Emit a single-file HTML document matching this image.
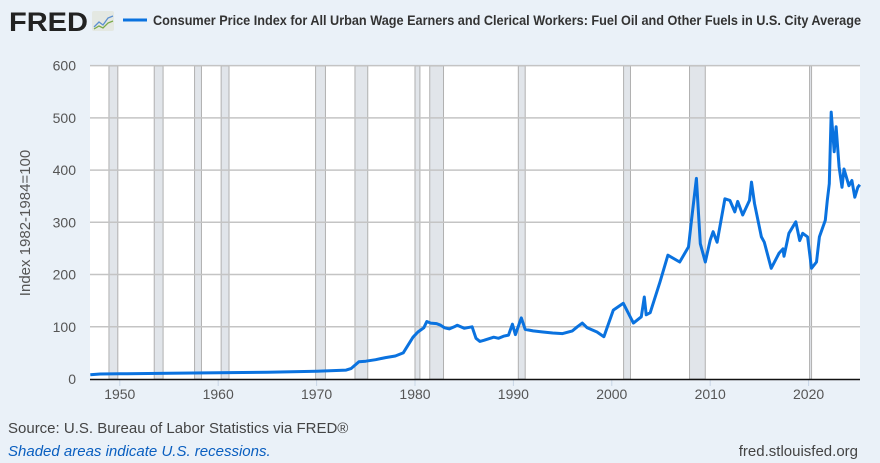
<!DOCTYPE html>
<html><head><meta charset="utf-8"><style>
html,body{margin:0;padding:0;background:#eaf1f8;}
svg{display:block;font-family:"Liberation Sans",sans-serif;}
</style></head><body>
<svg id="chart" width="880" height="463">
<rect width="880" height="463" fill="#eaf1f8"/>
<g>
<text x="9" y="31" font-size="27" font-weight="bold" fill="#222" textLength="79" lengthAdjust="spacingAndGlyphs">FRED</text>
<rect x="92" y="11" width="22" height="20" fill="#e4e8e2" rx="2"/>
<polyline points="94,27 99,22 103,25 108,18 113,16" fill="none" stroke="#5b8fd0" stroke-width="1.3"/>
<polyline points="94,29 99,26 103,28 108,23 113,21" fill="none" stroke="#7aaa4a" stroke-width="1.3"/>
</g>
<line x1="123" y1="20" x2="147" y2="20" stroke="#0a72df" stroke-width="3"/>
<text x="153" y="25" font-size="14" font-weight="bold" fill="#333" textLength="708" lengthAdjust="spacingAndGlyphs">Consumer Price Index for All Urban Wage Earners and Clerical Workers: Fuel Oil and Other Fuels in U.S. City Average</text>
<rect x="90" y="66" width="770" height="313" fill="#fff"/>
<g id="rec"></g><g id="grid"></g><g id="yt"></g><g id="xt"></g>
<text transform="translate(30,223) rotate(-90)" text-anchor="middle" font-size="15" fill="#555">Index 1982-1984=100</text>
<path id="line" fill="none" stroke="#0a72df" stroke-width="3" stroke-linejoin="round"/>
<line x1="90" y1="379.5" x2="860" y2="379.5" stroke="#111" stroke-width="1.5"/>
<text x="8" y="433" font-size="15" fill="#444">Source: U.S. Bureau of Labor Statistics via FRED®</text>
<text x="8" y="456" font-size="15" fill="#0a5fc0" font-style="italic">Shaded areas indicate U.S. recessions.</text>
<text x="858" y="456" font-size="15" fill="#444" text-anchor="end">fred.stlouisfed.org</text>
</svg>
<script>
const years=[1947,1948,1950,1955,1960,1965,1970,1973.0,1973.5,1974.0,1974.3,1975,1976,1977,1978,1978.8,1979.3,1979.8,1980.3,1980.9,1981.2,1981.6,1982.2,1982.6,1983,1983.5,1984,1984.3,1985,1985.8,1986.2,1986.6,1987,1988,1988.5,1989,1989.5,1989.9,1990.2,1990.8,1991.2,1992,1993,1994,1995,1996,1996.5,1997,1997.5,1998.5,1999.2,2000.15,2001.17,2002.2,2003.0,2003.3,2003.5,2003.9,2004.9,2005.7,2006.9,2007.8,2008.1,2008.6,2009.0,2009.5,2010.0,2010.3,2010.7,2011.5,2012.0,2012.5,2012.8,2013.3,2014.0,2014.2,2014.5,2015.2,2015.5,2016.2,2017.0,2017.4,2017.5,2018.0,2018.7,2019.1,2019.4,2019.9,2020.3,2020.8,2021.1,2021.7,2021.9,2022.1,2022.3,2022.6,2022.8,2023.1,2023.4,2023.6,2024.1,2024.4,2024.7,2025.0,2025.2];
const values=[8,9.5,10,11,12,13,15,17,20,28,33,34,37,41,44,50,65,80,90,98,110,107,106,103,98,96,100,103,97,100,78,72,74,80,78,82,84,105,85,117,95,92,90,88,87,92,100,107,98,90,81,132,145,107,119,157,123,127,186,237,224,253,304,384,259,224,266,282,262,345,342,320,340,314,342,377,336,272,262,212,241,249,235,279,301,265,279,272,212,224,272,304,342,374,511,435,483,406,367,402,370,380,348,367,372];
const recStart=[1948.9,1953.5,1957.6,1960.3,1969.9,1973.9,1980.0,1981.5,1990.5,2001.2,2007.9,2020.1];
const recEnd=[1949.8,1954.4,1958.3,1961.1,1970.9,1975.2,1980.5,1982.9,1991.2,2001.9,2009.5,2020.3];
const yTicks=[0,100,200,300,400,500,600];
const xTicks=[1950,1960,1970,1980,1990,2000,2010,2020];
const NS="http://www.w3.org/2000/svg";
const X=y=>623.3+(y-2001.17)*9.84;
const Y=v=>379-v*0.5223;
function mk(t,a,p){const e=document.createElementNS(NS,t);for(const k in a)e.setAttribute(k,a[k]);p.appendChild(e);return e;}
const rec=document.getElementById('rec');
recStart.forEach((s,i)=>{const r=mk('rect',{x:X(s),y:66,width:Math.max(2,X(recEnd[i])-X(s)),height:313,fill:'#e1e5ea',stroke:'#b0b0b0','stroke-width':1},rec);

});
const grid=document.getElementById('grid'),yt=document.getElementById('yt'),xt=document.getElementById('xt');
yTicks.forEach(v=>{if(v>0){const l=mk('line',{x1:90,x2:860,y1:Y(v),y2:Y(v),stroke:'#c4c4c4','stroke-width':1.5},grid);

}
const t=mk('text',{x:76,y:Y(v)+5,'text-anchor':'end','font-size':14,fill:'#555'},yt);t.textContent=v;

});
xTicks.forEach(yr=>{const l=mk('line',{x1:X(yr),x2:X(yr),y1:380,y2:386,stroke:'#c8d6e6','stroke-width':1},xt);


const t=mk('text',{x:X(yr),y:399,'text-anchor':'middle','font-size':14,fill:'#555'},xt);t.textContent=yr;

});
document.getElementById('line').setAttribute('d',years.map((y,i)=>(i?'L':'M')+X(y).toFixed(1)+','+Y(values[i]).toFixed(1)).join(''));
</script>
</body></html>
